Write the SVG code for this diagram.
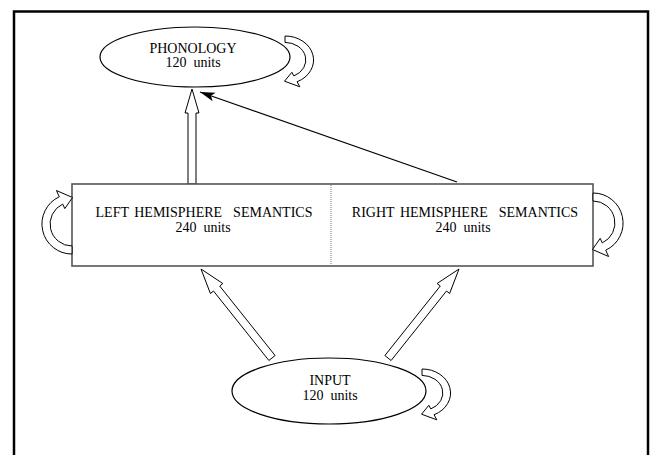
<svg xmlns="http://www.w3.org/2000/svg" xmlns:xlink="http://www.w3.org/1999/xlink" width="650" height="455" viewBox="0 0 650 455">
  <style>
    .lbl { font-family: "Liberation Serif", "Times New Roman", serif; font-size: 14px; fill: #000; text-anchor: middle; white-space: pre; }
    .wide { word-spacing: 2px; }
    .node { fill: #fff; stroke: #000; stroke-width: 1.2; }
    .box { fill: #fff; stroke: #555; stroke-width: 1.6; }
    .hollow { fill: #fff; stroke: #000; stroke-width: 1; stroke-linejoin: miter; }
    .thin { fill: none; stroke: #000; stroke-width: 1.2; }
  </style>
  <defs>
    <path id="loop" vector-effect="non-scaling-stroke" d="M 0,-30 A 30,30 0 0 1 12.7,27.2 L 15.6,33.5 L -0.5,26.5 L 7.2,15.4 L 9.3,19.9 A 22,22 0 0 0 0,-22 Z"/>
    <marker id="head" markerWidth="16" markerHeight="10" refX="15" refY="5" orient="auto" markerUnits="userSpaceOnUse">
      <path d="M 0,0.5 L 15,5 L 0,9.5 L 3.5,5 Z" fill="#000"/>
    </marker>
  </defs>

  <rect id="frame" x="14" y="11.5" width="634" height="460" fill="none" stroke="#000" stroke-width="2.5"/>

  <g id="connectors">
    <!-- left semantics to phonology (hollow) -->
    <polygon class="hollow" points="188,184 188,113 185,113 192,89 199,113 196,113 196,184"/>
    <!-- right semantics to phonology (thin) -->
    <line class="thin" x1="457" y1="182" x2="200" y2="92" marker-end="url(#head)"/>
    <!-- input to left semantics -->
    <polygon class="hollow" points="275.1,355.5 219.7,286 222.8,283.5 201,269 210.4,293.5 213.5,291 268.9,360.5"/>
    <!-- input to right semantics -->
    <polygon class="hollow" points="391.1,360.5 446.5,291 449.6,293.5 459,269 437.1,283.5 440.3,286 384.9,355.5"/>
  </g>

  <g id="node-phonology">
    <ellipse class="node" cx="195" cy="57" rx="95" ry="30"/>
    <text class="lbl" x="193" y="53">PHONOLOGY</text>
    <text class="lbl" x="193" y="67">120  units</text>
  </g>

  <g id="node-semantics">
    <rect class="box" x="72" y="184" width="521" height="82"/>
    <line x1="331" y1="185" x2="331" y2="265" stroke="#777" stroke-width="1" stroke-dasharray="1,1"/>
  </g>
  <g id="node-left-semantics">
    <text class="lbl wide" x="204" y="217">LEFT HEMISPHERE  SEMANTICS</text>
    <text class="lbl" x="203" y="232">240  units</text>
  </g>
  <g id="node-right-semantics">
    <text class="lbl wide" x="465" y="217">RIGHT HEMISPHERE  SEMANTICS</text>
    <text class="lbl" x="463" y="232">240  units</text>
  </g>

  <g id="node-input">
    <ellipse class="node" cx="329" cy="391" rx="97" ry="33"/>
    <text class="lbl" x="330" y="385">INPUT</text>
    <text class="lbl" x="330" y="400">120  units</text>
  </g>

  <g id="self-loops">
    <use xlink:href="#loop" class="hollow" transform="translate(285,60) scale(0.95,0.8)"/>
    <use xlink:href="#loop" class="hollow" transform="translate(72,224) rotate(180)"/>
    <use xlink:href="#loop" class="hollow" transform="translate(593,223)"/>
    <use xlink:href="#loop" class="hollow" transform="translate(422,393) scale(0.95,0.8)"/>
  </g>
</svg>
